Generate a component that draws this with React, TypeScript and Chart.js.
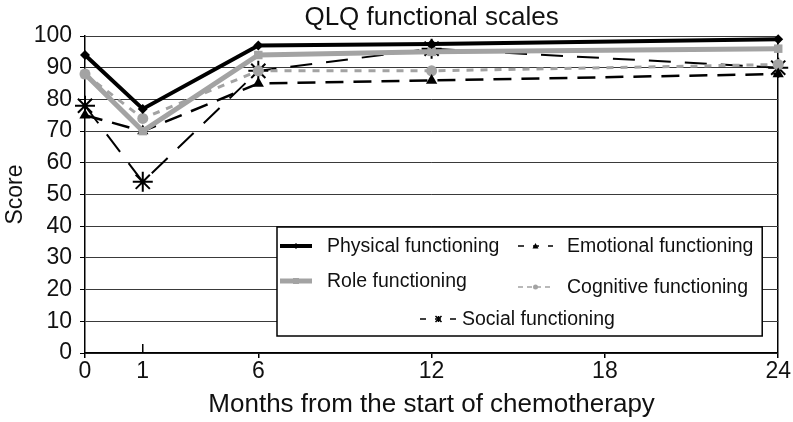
import React, { useEffect, useRef } from 'react';
import { Chart, registerables } from 'chart.js';

Chart.register(...registerables);

// Axis ticks (the "1 month" visit sits at axis position 2 in the original chart)
const tickValues = [0, 2, 6, 12, 18, 24];
const tickLabels = ['0', '1', '6', '12', '18', '24'];
const visitPositions = [0, 2, 6, 12, 24];

const chartTitle = 'QLQ functional scales';
const seriesNames = [
  'Physical functioning',
  'Role functioning',
  'Emotional functioning',
  'Cognitive functioning',
  'Social functioning',
];
const physical = [94, 77, 97, 97.5, 99];
const role = [88, 70, 94, 95, 96];
const emotional = [75, 70, 85, 86, 88];
const cognitive = [88, 74, 89, 89, 91];
const social = [78, 54, 89, 96, 90];

const FONT = '"Liberation Sans", Arial, Helvetica, sans-serif';
const GRAY = '#a3a3a3';

const toPoints = (vals: number[]) => vals.map((v, i) => ({ x: visitPositions[i], y: v }));

function drawMarker(ctx: CanvasRenderingContext2D, style: string, x: number, y: number, r: number, color: string) {
  ctx.save();
  ctx.fillStyle = color;
  ctx.strokeStyle = color;
  ctx.setLineDash([]);
  ctx.beginPath();
  if (style === 'diamond') {
    ctx.moveTo(x, y - r); ctx.lineTo(x + r, y); ctx.lineTo(x, y + r); ctx.lineTo(x - r, y); ctx.closePath(); ctx.fill();
  } else if (style === 'square') {
    ctx.rect(x - r, y - r, 2 * r, 2 * r); ctx.fill();
  } else if (style === 'triangle') {
    ctx.moveTo(x, y - r); ctx.lineTo(x + r, y + r * 0.8); ctx.lineTo(x - r, y + r * 0.8); ctx.closePath(); ctx.fill();
  } else if (style === 'circle') {
    ctx.arc(x, y, r, 0, Math.PI * 2); ctx.fill();
  } else if (style === 'star') {
    ctx.lineWidth = 1.5;
    ctx.moveTo(x - r, y - r); ctx.lineTo(x + r, y + r);
    ctx.moveTo(x + r, y - r); ctx.lineTo(x - r, y + r);
    ctx.moveTo(x, y - r); ctx.lineTo(x, y + r);
    ctx.stroke();
  }
  ctx.restore();
}

const legendPlugin = {
  id: 'qlqLegend',
  afterDraw(chart: any) {
    const { ctx, chartArea: ca } = chart;
    ctx.save();
    // title centered over the plot area
    ctx.font = `26px ${FONT}`;
    ctx.fillStyle = '#111';
    ctx.textAlign = 'center';
    ctx.textBaseline = 'middle';
    ctx.fillText(chartTitle, (ca.left + ca.right) / 2, 18);
    ctx.restore();
  },
  afterDatasetsDraw(chart: any) {
    const { ctx, chartArea: ca } = chart;
    const left = ca.left + 192;
    const right = ca.right - 16;
    const top = ca.top + 191;
    const bottom = ca.top + 300;
    ctx.save();
    ctx.fillStyle = '#ffffff';
    ctx.fillRect(left, top, right - left, bottom - top);
    ctx.strokeStyle = '#000';
    ctx.lineWidth = 1.5;
    ctx.strokeRect(left, top, right - left, bottom - top);

    const items = [
      { i: 0, x0: 3, x1: 35, tx: 50, y: 19, color: '#000', width: 4, dash: [] as number[], marker: 'diamond', mr: 3 },
      { i: 1, x0: 3, x1: 35, tx: 50, y: 54, color: GRAY, width: 5, dash: [], marker: 'square', mr: 3 },
      { i: 2, x0: 241, x1: 276, tx: 290, y: 19, color: '#000', width: 1.5, dash: [6, 9], marker: 'triangle', mr: 3 },
      { i: 3, x0: 241, x1: 276, tx: 290, y: 60, color: GRAY, width: 1.5, dash: [5, 4], marker: 'circle', mr: 2.5 },
      { i: 4, x0: 143, x1: 180, tx: 185, y: 92, color: '#000', width: 1.5, dash: [6, 9], marker: 'star', mr: 3 },
    ];
    ctx.font = `19.5px ${FONT}`;
    ctx.textBaseline = 'middle';
    ctx.textAlign = 'left';
    for (const it of items) {
      const y = top + it.y;
      ctx.save();
      ctx.strokeStyle = it.color;
      ctx.lineWidth = it.width;
      ctx.setLineDash(it.dash);
      ctx.beginPath();
      ctx.moveTo(left + it.x0, y);
      ctx.lineTo(left + it.x1, y);
      ctx.stroke();
      ctx.restore();
      drawMarker(ctx, it.marker, left + (it.x0 + it.x1) / 2, y, it.mr, it.color);
      ctx.fillStyle = '#111';
      ctx.fillText(seriesNames[it.i], left + it.tx, y + 1);
    }

    // inner tick mark at the "1" label
    const xs = chart.scales.x;
    const px = xs.getPixelForValue(tickValues[1]);
    ctx.strokeStyle = '#000';
    ctx.lineWidth = 1.5;
    ctx.setLineDash([]);
    ctx.beginPath();
    ctx.moveTo(px, ca.bottom);
    ctx.lineTo(px, ca.bottom - 9);
    ctx.stroke();
    ctx.restore();
  },
};

export default function App() {
  const canvasRef = useRef<HTMLCanvasElement | null>(null);

  useEffect(() => {
    document.body.style.margin = '0';
    const canvas = canvasRef.current;
    if (!canvas) return;
    const chart = new Chart(canvas, {
      type: 'line',
      data: {
        datasets: [
          {
            label: seriesNames[0], data: toPoints(physical), borderColor: '#000', backgroundColor: '#000',
            borderWidth: 4, pointStyle: 'rectRot', pointRadius: 5, pointBorderWidth: 0, clip: false,
          },
          {
            label: seriesNames[1], data: toPoints(role), borderColor: GRAY, backgroundColor: GRAY,
            borderWidth: 5, pointStyle: 'rect', pointRadius: 6, pointBorderWidth: 0, clip: false,
          },
          {
            label: seriesNames[2], data: toPoints(emotional), borderColor: '#000', backgroundColor: '#000',
            borderWidth: 2.5, borderDash: [18, 10], pointStyle: 'triangle', pointRadius: 6.5, pointBorderWidth: 0, clip: false,
          },
          {
            label: seriesNames[3], data: toPoints(cognitive), borderColor: GRAY, backgroundColor: GRAY,
            borderWidth: 3, borderDash: [7, 7], pointStyle: 'circle', pointRadius: 5.5, pointBorderWidth: 0, clip: false,
          },
          {
            label: seriesNames[4], data: toPoints(social), borderColor: '#000', backgroundColor: '#000',
            borderWidth: 2, borderDash: [22, 14], pointStyle: 'star', pointRadius: 10, pointBorderWidth: 2, clip: false,
          },
        ],
      },
      options: {
        responsive: false,
        animation: false,
        layout: { padding: { left: 0, right: 14, top: 36, bottom: 0 } },
        plugins: {
          legend: { display: false },
          tooltip: { enabled: false },
          title: { display: false },
        },
        scales: {
          x: {
            type: 'linear',
            min: 0,
            max: 24,
            afterBuildTicks: (scale: any) => {
              scale.ticks = tickValues.map((v) => ({ value: v }));
            },
            afterFit: (scale: any) => {
              scale.height = 69;
            },
            ticks: {
              autoSkip: false,
              maxRotation: 0,
              color: '#111',
              padding: 2,
              font: { family: FONT, size: 23, lineHeight: 1 },
              callback: (v: any) => {
                const idx = tickValues.indexOf(Number(v));
                return idx >= 0 ? tickLabels[idx] : '';
              },
            },
            grid: {
              color: (c: any) => (c.tick && c.tick.value === 24 ? '#000' : 'rgba(0,0,0,0)'),
              tickColor: (c: any) => (c.tick && c.tick.value === tickValues[1] ? 'rgba(0,0,0,0)' : '#000'),
              lineWidth: 1.5,
              tickLength: 5,
              drawOnChartArea: true,
            },
            border: { display: true, color: '#000', width: 1.5 },
            title: {
              display: true,
              text: 'Months from the start of chemotherapy',
              color: '#111',
              font: { family: FONT, size: 26 },
              padding: { top: 1, bottom: 2 },
            },
          },
          y: {
            min: 0,
            max: 100,
            afterFit: (scale: any) => {
              scale.width = 85;
            },
            ticks: {
              stepSize: 10,
              color: '#111',
              padding: 8,
              font: { family: FONT, size: 23 },
            },
            grid: {
              color: '#3a3a3a',
              lineWidth: 1,
              tickLength: 5,
              tickColor: '#000',
            },
            border: { display: true, color: '#000', width: 1.5 },
            title: {
              display: true,
              text: 'Score',
              color: '#111',
              font: { family: FONT, size: 23 },
              padding: { top: 2, bottom: 0 },
            },
          },
        },
      },
      plugins: [legendPlugin],
    } as any);
    return () => chart.destroy();
  }, []);

  return (
    <div style={{ width: 793, height: 422, background: '#fff' }}>
      <canvas ref={canvasRef} width={793} height={422} style={{ display: 'block' }} />
    </div>
  );
}
